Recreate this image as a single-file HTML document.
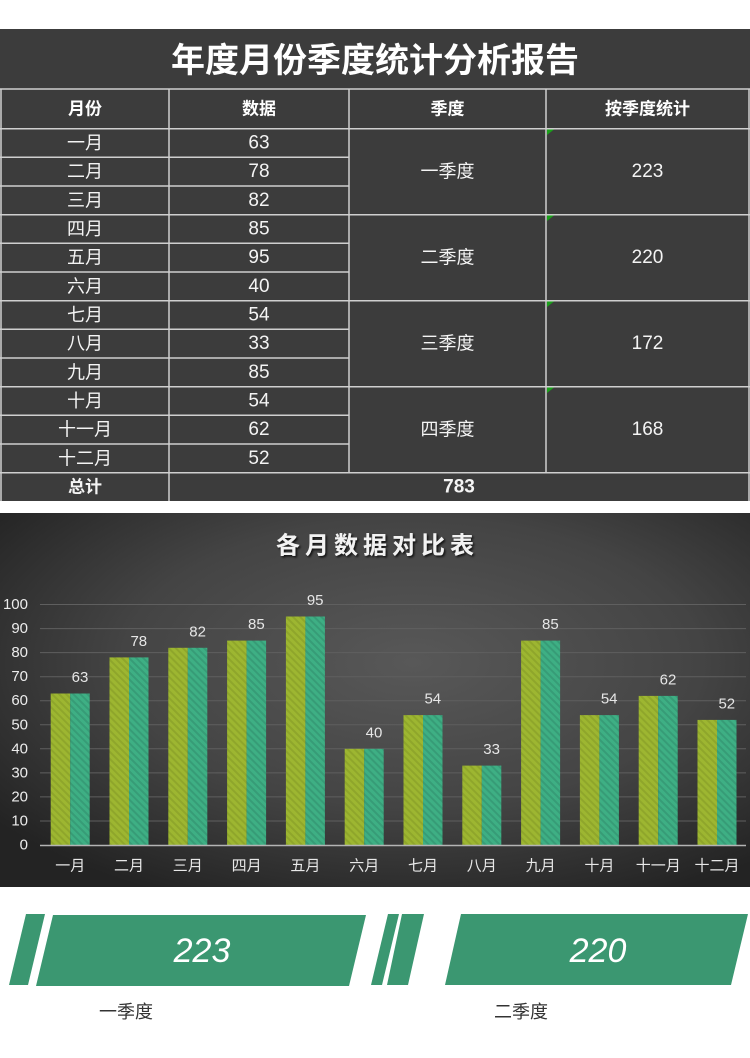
<!DOCTYPE html>
<html><head><meta charset="utf-8"><style>
html,body{margin:0;padding:0;background:#fff;}
svg{display:block;}
text{font-family:"Liberation Sans","Noto Sans CJK SC",sans-serif;}
</style></head><body>
<svg width="750" height="1058" viewBox="0 0 750 1058" xmlns="http://www.w3.org/2000/svg">
<defs>
<radialGradient id="bg" cx="0.55" cy="0.4" r="0.7">
<stop offset="0" stop-color="#585858"/>
<stop offset="0.55" stop-color="#444444"/>
<stop offset="1" stop-color="#232323"/>
</radialGradient>
<pattern id="pY" patternUnits="userSpaceOnUse" width="5" height="5" patternTransform="rotate(-45)">
<rect width="5" height="5" fill="#9db631"/>
<rect width="2" height="5" fill="#8fa62b"/>
</pattern>
<pattern id="pT" patternUnits="userSpaceOnUse" width="5" height="5" patternTransform="rotate(-45)">
<rect width="5" height="5" fill="#3eaf84"/>
<rect width="2" height="5" fill="#379c77"/>
</pattern>
<filter id="sh" x="-10%" y="-30%" width="120%" height="160%">
<feDropShadow dx="1.5" dy="1.5" stdDeviation="1" flood-color="#000" flood-opacity="0.8"/>
</filter>
</defs>

<!-- TABLE -->
<rect x="0" y="29" width="750" height="472" fill="#3c3c3c"/>
<text x="375" y="61" text-anchor="middle" dominant-baseline="central" font-size="34" font-weight="bold" fill="#ffffff">年度月份季度统计分析报告</text>

<g stroke="#cfcfcf" stroke-width="1.5" fill="none">
<line x1="0" y1="89" x2="750" y2="89"/>
<line x1="0" y1="128.7" x2="750" y2="128.7"/>
<line x1="0" y1="157.3" x2="349" y2="157.3"/>
<line x1="0" y1="186" x2="349" y2="186"/>
<line x1="0" y1="214.7" x2="750" y2="214.7"/>
<line x1="0" y1="243.3" x2="349" y2="243.3"/>
<line x1="0" y1="272" x2="349" y2="272"/>
<line x1="0" y1="300.7" x2="750" y2="300.7"/>
<line x1="0" y1="329.3" x2="349" y2="329.3"/>
<line x1="0" y1="358" x2="349" y2="358"/>
<line x1="0" y1="386.7" x2="750" y2="386.7"/>
<line x1="0" y1="415.3" x2="349" y2="415.3"/>
<line x1="0" y1="444" x2="349" y2="444"/>
<line x1="0" y1="472.7" x2="750" y2="472.7"/>
<line x1="1" y1="89" x2="1" y2="501"/>
<line x1="169" y1="89" x2="169" y2="501"/>
<line x1="349" y1="89" x2="349" y2="472.7"/>
<line x1="546" y1="89" x2="546" y2="472.7"/>
<line x1="749" y1="89" x2="749" y2="501"/>
</g>
<g fill="#1aa01a">
<polygon points="547,129.5 554,129.5 547,135"/>
<polygon points="547,215.5 554,215.5 547,221"/>
<polygon points="547,301.5 554,301.5 547,307"/>
<polygon points="547,387.5 554,387.5 547,393"/>
</g>

<g font-size="17" font-weight="bold" fill="#ffffff" text-anchor="middle" dominant-baseline="central">
<text x="85" y="109">月份</text>
<text x="259" y="109">数据</text>
<text x="447.5" y="109">季度</text>
<text x="647.5" y="109">按季度统计</text>
</g>
<g font-size="18" fill="#f4f4f4" text-anchor="middle" dominant-baseline="central">
<text x="85" y="143">一月</text><text x="259" y="143" font-size="19">63</text>
<text x="85" y="171.7">二月</text><text x="259" y="171.7" font-size="19">78</text>
<text x="85" y="200.3">三月</text><text x="259" y="200.3" font-size="19">82</text>
<text x="85" y="229">四月</text><text x="259" y="229" font-size="19">85</text>
<text x="85" y="257.7">五月</text><text x="259" y="257.7" font-size="19">95</text>
<text x="85" y="286.3">六月</text><text x="259" y="286.3" font-size="19">40</text>
<text x="85" y="315">七月</text><text x="259" y="315" font-size="19">54</text>
<text x="85" y="343.7">八月</text><text x="259" y="343.7" font-size="19">33</text>
<text x="85" y="372.3">九月</text><text x="259" y="372.3" font-size="19">85</text>
<text x="85" y="401">十月</text><text x="259" y="401" font-size="19">54</text>
<text x="85" y="429.7">十一月</text><text x="259" y="429.7" font-size="19">62</text>
<text x="85" y="458.3">十二月</text><text x="259" y="458.3" font-size="19">52</text>
<text x="447.5" y="171.7">一季度</text><text x="647.5" y="171.7" font-size="19">223</text>
<text x="447.5" y="257.7">二季度</text><text x="647.5" y="257.7" font-size="19">220</text>
<text x="447.5" y="343.7">三季度</text><text x="647.5" y="343.7" font-size="19">172</text>
<text x="447.5" y="429.7">四季度</text><text x="647.5" y="429.7" font-size="19">168</text>
<text x="85" y="487" font-weight="bold" font-size="17">总计</text>
<text x="459" y="487" font-weight="bold" font-size="19">783</text>
</g>

<!-- CHART -->
<rect x="0" y="513" width="750" height="374" fill="url(#bg)"/>
<text x="377.5" y="546" text-anchor="middle" dominant-baseline="central" font-size="24" font-weight="bold" letter-spacing="5" fill="#f2f2f2" filter="url(#sh)">各月数据对比表</text>

<g stroke="#5f5f5f" stroke-width="1">
<line x1="40" y1="604.5" x2="746" y2="604.5"/>
<line x1="40" y1="628.6" x2="746" y2="628.6"/>
<line x1="40" y1="652.6" x2="746" y2="652.6"/>
<line x1="40" y1="676.7" x2="746" y2="676.7"/>
<line x1="40" y1="700.7" x2="746" y2="700.7"/>
<line x1="40" y1="724.8" x2="746" y2="724.8"/>
<line x1="40" y1="748.8" x2="746" y2="748.8"/>
<line x1="40" y1="772.9" x2="746" y2="772.9"/>
<line x1="40" y1="796.9" x2="746" y2="796.9"/>
<line x1="40" y1="821" x2="746" y2="821"/>
</g>

<g font-size="15" fill="#ececec" text-anchor="end" dominant-baseline="central">
<text x="28" y="604.5">100</text>
<text x="28" y="628.6">90</text>
<text x="28" y="652.6">80</text>
<text x="28" y="676.7">70</text>
<text x="28" y="700.7">60</text>
<text x="28" y="724.8">50</text>
<text x="28" y="748.8">40</text>
<text x="28" y="772.9">30</text>
<text x="28" y="796.9">20</text>
<text x="28" y="821">10</text>
<text x="28" y="845">0</text>
</g>

<!-- bars: left = 50.7 + i*58.8 ; y = 845 - v*2.405 -->
<g>
<rect x="50.7" y="693.5" width="19.5" height="151.5" fill="url(#pY)"/><rect x="70.2" y="693.5" width="19.5" height="151.5" fill="url(#pT)"/>
<rect x="109.5" y="657.4" width="19.5" height="187.6" fill="url(#pY)"/><rect x="129" y="657.4" width="19.5" height="187.6" fill="url(#pT)"/>
<rect x="168.3" y="647.8" width="19.5" height="197.2" fill="url(#pY)"/><rect x="187.8" y="647.8" width="19.5" height="197.2" fill="url(#pT)"/>
<rect x="227.1" y="640.6" width="19.5" height="204.4" fill="url(#pY)"/><rect x="246.6" y="640.6" width="19.5" height="204.4" fill="url(#pT)"/>
<rect x="285.9" y="616.5" width="19.5" height="228.5" fill="url(#pY)"/><rect x="305.4" y="616.5" width="19.5" height="228.5" fill="url(#pT)"/>
<rect x="344.7" y="748.8" width="19.5" height="96.2" fill="url(#pY)"/><rect x="364.2" y="748.8" width="19.5" height="96.2" fill="url(#pT)"/>
<rect x="403.5" y="715.1" width="19.5" height="129.9" fill="url(#pY)"/><rect x="423" y="715.1" width="19.5" height="129.9" fill="url(#pT)"/>
<rect x="462.3" y="765.6" width="19.5" height="79.4" fill="url(#pY)"/><rect x="481.8" y="765.6" width="19.5" height="79.4" fill="url(#pT)"/>
<rect x="521.1" y="640.6" width="19.5" height="204.4" fill="url(#pY)"/><rect x="540.6" y="640.6" width="19.5" height="204.4" fill="url(#pT)"/>
<rect x="579.9" y="715.1" width="19.5" height="129.9" fill="url(#pY)"/><rect x="599.4" y="715.1" width="19.5" height="129.9" fill="url(#pT)"/>
<rect x="638.7" y="695.9" width="19.5" height="149.1" fill="url(#pY)"/><rect x="658.2" y="695.9" width="19.5" height="149.1" fill="url(#pT)"/>
<rect x="697.5" y="719.9" width="19.5" height="125.1" fill="url(#pY)"/><rect x="717" y="719.9" width="19.5" height="125.1" fill="url(#pT)"/>
</g>
<line x1="40" y1="845.5" x2="746" y2="845.5" stroke="#b4b4b4" stroke-width="1.5"/>

<g font-size="15" fill="#e6e6e6" text-anchor="middle" dominant-baseline="central">
<text x="80" y="677.5">63</text>
<text x="138.8" y="641.4">78</text>
<text x="197.6" y="631.8">82</text>
<text x="256.4" y="624.6">85</text>
<text x="315.2" y="600.5">95</text>
<text x="374" y="732.8">40</text>
<text x="432.8" y="699.1">54</text>
<text x="491.6" y="749.6">33</text>
<text x="550.4" y="624.6">85</text>
<text x="609.2" y="699.1">54</text>
<text x="668" y="679.9">62</text>
<text x="726.8" y="703.9">52</text>
</g>

<g font-size="15" fill="#e8e8e8" text-anchor="middle" dominant-baseline="central">
<text x="70.2" y="866">一月</text>
<text x="129" y="866">二月</text>
<text x="187.8" y="866">三月</text>
<text x="246.6" y="866">四月</text>
<text x="305.4" y="866">五月</text>
<text x="364.2" y="866">六月</text>
<text x="423" y="866">七月</text>
<text x="481.8" y="866">八月</text>
<text x="540.6" y="866">九月</text>
<text x="599.4" y="866">十月</text>
<text x="658.2" y="866">十一月</text>
<text x="717" y="866">十二月</text>
</g>

<!-- BOTTOM SHAPES -->
<g fill="#3b9771">
<polygon points="26,914 45,914 28,985 9,985"/>
<polygon points="53,915 366,915 349,986 36,986"/>
<polygon points="388,914 399,914 382,985 371,985"/>
<polygon points="402,914 424,914 408,985 387,985"/>
<polygon points="461,914 748,914 731,985 445,985"/>
</g>
<text x="202" y="951" text-anchor="middle" dominant-baseline="central" font-size="34" font-style="italic" fill="#ffffff">223</text>
<text x="598" y="951" text-anchor="middle" dominant-baseline="central" font-size="34" font-style="italic" fill="#ffffff">220</text>
<text x="126" y="1012" text-anchor="middle" dominant-baseline="central" font-size="18" fill="#333333">一季度</text>
<text x="521" y="1012" text-anchor="middle" dominant-baseline="central" font-size="18" fill="#333333">二季度</text>
</svg>
</body></html>
